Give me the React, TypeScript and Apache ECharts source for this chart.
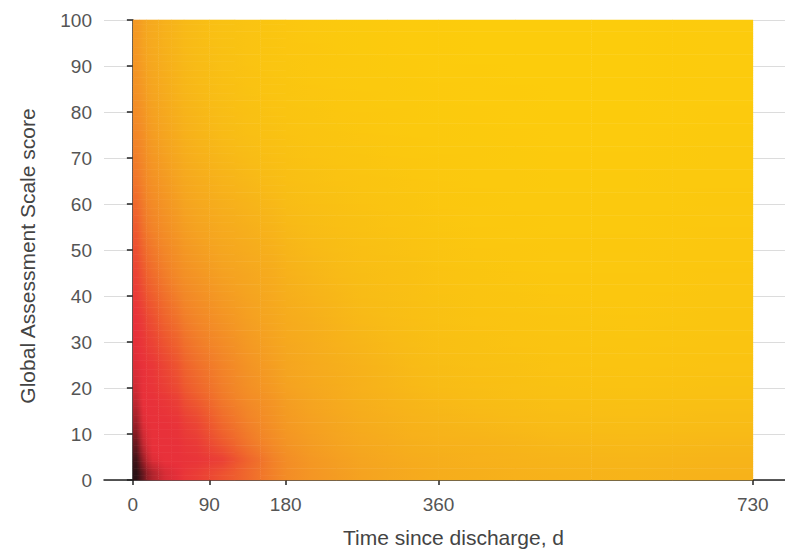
import React, { useEffect, useRef } from "react";
import * as echarts from "echarts";

// Cell edges (days since discharge) and score bands
const DAY_EDGES = [0, 8, 16, 30, 45, 60, 90, 120, 150, 180, 240, 300, 360, 450, 540, 635, 730];
const SCORE_EDGES = [0, 3, 6, 10, 15, 20, 30, 40, 50, 60, 70, 80, 90, 100];

// Relative intensity (0 = dark, 1 = yellow), one row per score band, bottom to top
const ROW_0_3 = [0.02, 0.1, 0.2, 0.26, 0.28, 0.33, 0.4, 0.48, 0.56, 0.65, 0.71, 0.75, 0.78, 0.8, 0.81, 0.8];
const ROW_3_6 = [0.05, 0.17, 0.27, 0.29, 0.29, 0.3, 0.34, 0.46, 0.56, 0.66, 0.72, 0.76, 0.79, 0.81, 0.82, 0.81];
const ROW_6_10 = [0.1, 0.23, 0.29, 0.29, 0.29, 0.32, 0.42, 0.52, 0.6, 0.68, 0.74, 0.78, 0.8, 0.83, 0.84, 0.83];
const ROW_10_15 = [0.17, 0.27, 0.29, 0.29, 0.3, 0.36, 0.48, 0.56, 0.63, 0.7, 0.76, 0.8, 0.83, 0.86, 0.87, 0.86];
const ROW_15_20 = [0.23, 0.29, 0.29, 0.31, 0.34, 0.43, 0.53, 0.6, 0.65, 0.72, 0.78, 0.82, 0.86, 0.89, 0.9, 0.89];
const ROW_20_30 = [0.27, 0.29, 0.31, 0.36, 0.41, 0.5, 0.57, 0.64, 0.69, 0.75, 0.8, 0.85, 0.89, 0.92, 0.93, 0.92];
const ROW_30_40 = [0.29, 0.33, 0.39, 0.46, 0.51, 0.58, 0.64, 0.69, 0.73, 0.78, 0.84, 0.88, 0.92, 0.94, 0.95, 0.94];
const ROW_40_50 = [0.35, 0.42, 0.49, 0.55, 0.6, 0.65, 0.7, 0.73, 0.76, 0.82, 0.87, 0.9, 0.94, 0.96, 0.96, 0.95];
const ROW_50_60 = [0.43, 0.51, 0.57, 0.62, 0.66, 0.71, 0.75, 0.78, 0.81, 0.86, 0.9, 0.93, 0.96, 0.97, 0.97, 0.96];
const ROW_60_70 = [0.52, 0.57, 0.63, 0.67, 0.71, 0.76, 0.8, 0.83, 0.86, 0.9, 0.93, 0.95, 0.97, 0.98, 0.98, 0.97];
const ROW_70_80 = [0.58, 0.62, 0.68, 0.72, 0.76, 0.81, 0.85, 0.88, 0.9, 0.93, 0.95, 0.97, 0.98, 0.99, 0.99, 0.98];
const ROW_80_90 = [0.63, 0.67, 0.72, 0.76, 0.8, 0.84, 0.88, 0.91, 0.93, 0.95, 0.97, 0.98, 0.99, 1, 1, 0.99];
const ROW_90_100 = [0.66, 0.71, 0.75, 0.79, 0.82, 0.86, 0.9, 0.92, 0.94, 0.96, 0.98, 0.99, 1, 1, 1, 0.99];

const ROWS = [
  ROW_0_3, ROW_3_6, ROW_6_10, ROW_10_15, ROW_15_20, ROW_20_30, ROW_30_40,
  ROW_40_50, ROW_50_60, ROW_60_70, ROW_70_80, ROW_80_90, ROW_90_100,
];

const X_TICKS = [0, 90, 180, 360, 730];
const X_NAME = "Time since discharge, d";
const Y_NAME = "Global Assessment Scale score";

const COLORS = ["#1a0f12", "#8a1c24", "#e8303a", "#ee5a2e", "#f28428", "#f5a420", "#f8bc16", "#fccc0c"];

const NR = ROWS.length;
const NC = ROWS[0].length;

function cellValue(r: number, c: number): number {
  const rr = Math.max(0, Math.min(NR - 1, r));
  const cc = Math.max(0, Math.min(NC - 1, c));
  return ROWS[rr][cc];
}

function colorOf(v: number): string {
  return echarts.color.lerp(Math.max(0, Math.min(1, v)), COLORS) as string;
}

export default function App() {
  const ref = useRef<HTMLDivElement>(null);

  useEffect(() => {
    if (!ref.current) return;
    const chart = echarts.init(ref.current, null, { renderer: "svg" });

    const data: number[][] = [];
    ROWS.forEach((row, ri) => {
      row.forEach((v, ci) => {
        data.push([DAY_EDGES[ci], DAY_EDGES[ci + 1], SCORE_EDGES[ri], SCORE_EDGES[ri + 1], v, ri, ci]);
      });
    });

    const font = "Liberation Sans, Arial, sans-serif";

    chart.setOption({
      animation: false,
      backgroundColor: "#ffffff",
      grid: { left: 104, right: 0, top: 20, bottom: 74, containLabel: false },
      xAxis: {
        type: "value",
        min: -34,
        max: 768,
        name: X_NAME,
        nameLocation: "middle",
        nameGap: 47,
        nameTextStyle: { color: "#444", fontSize: 21, fontFamily: font, padding: [0, 0, 0, 18] },
        axisLine: { show: true, lineStyle: { color: "#222", width: 1.5 } },
        axisTick: { show: true, customValues: X_TICKS, length: 5, lineStyle: { color: "#222", width: 1.5 } },
        axisLabel: { customValues: X_TICKS, margin: 15, color: "#555", fontSize: 19, fontFamily: font },
        splitLine: { show: false },
      },
      yAxis: {
        type: "value",
        min: 0,
        max: 100,
        interval: 10,
        name: Y_NAME,
        nameLocation: "middle",
        nameGap: 66,
        nameTextStyle: { color: "#444", fontSize: 21, fontFamily: font, padding: [0, 12, 0, 0] },
        axisLine: { show: true, lineStyle: { color: "#222", width: 1.5 } },
        axisTick: { show: true, length: 6, lineStyle: { color: "#222", width: 1.5 } },
        axisLabel: { margin: 12, color: "#555", fontSize: 19, fontFamily: font },
        splitLine: { show: true, lineStyle: { color: "#dcdcdc", width: 1 } },
      },
      series: [
        {
          type: "custom",
          encode: { x: [0, 1], y: [2, 3] },
          data,
          renderItem: (params: any, api: any) => {
            const ri = api.value(5);
            const ci = api.value(6);
            const pTL = api.coord([api.value(0), api.value(3)]);
            const pBR = api.coord([api.value(1), api.value(2)]);
            const x0 = pTL[0];
            const x1 = pBR[0];
            const yTop = pTL[1];
            const yBot = pBR[1];
            const yMid = (yTop + yBot) / 2;

            const v = cellValue(ri, ci);
            const l = cellValue(ri, ci - 1);
            const r = cellValue(ri, ci + 1);
            const b = cellValue(ri - 1, ci);
            const t = cellValue(ri + 1, ci);
            const bl = cellValue(ri - 1, ci - 1);
            const br = cellValue(ri - 1, ci + 1);
            const tl = cellValue(ri + 1, ci - 1);
            const tr = cellValue(ri + 1, ci + 1);

            const rowBottom = [(v + l + b + bl) / 4, (v + b) / 2, (v + r + b + br) / 4];
            const rowMiddle = [(v + l) / 2, v, (v + r) / 2];
            const rowTop = [(v + l + t + tl) / 4, (v + t) / 2, (v + r + t + tr) / 4];

            const children: any[] = [];
            const halves = [
              { yA: yBot, yB: yMid, lower: rowBottom, upper: rowMiddle },
              { yA: yMid, yB: yTop, lower: rowMiddle, upper: rowTop },
            ];
            halves.forEach((h) => {
              const hPx = Math.abs(h.yA - h.yB);
              const k = Math.max(1, Math.ceil(hPx / 2.5));
              for (let s = 0; s < k; s++) {
                const f = (s + 0.5) / k;
                const ya = h.yA + (h.yB - h.yA) * (s / k);
                const yb = h.yA + (h.yB - h.yA) * ((s + 1) / k);
                const vals = [0, 1, 2].map((j) => h.lower[j] + (h.upper[j] - h.lower[j]) * f);
                const top = Math.min(ya, yb);
                children.push({
                  type: "rect",
                  shape: { x: x0, y: top - 0.3, width: x1 - x0 + 0.4, height: Math.abs(yb - ya) + 0.6 },
                  style: {
                    fill: new echarts.graphic.LinearGradient(0, 0, 1, 0, [
                      { offset: 0, color: colorOf(vals[0]) },
                      { offset: 0.5, color: colorOf(vals[1]) },
                      { offset: 1, color: colorOf(vals[2]) },
                    ]),
                  },
                });
              }
            });
            return { type: "group", children };
          },
        },
      ],
    });

    return () => chart.dispose();
  }, []);

  return (
    <div
      ref={ref}
      style={{ position: "absolute", left: 0, top: 0, width: 785, height: 554 }}
    />
  );
}
